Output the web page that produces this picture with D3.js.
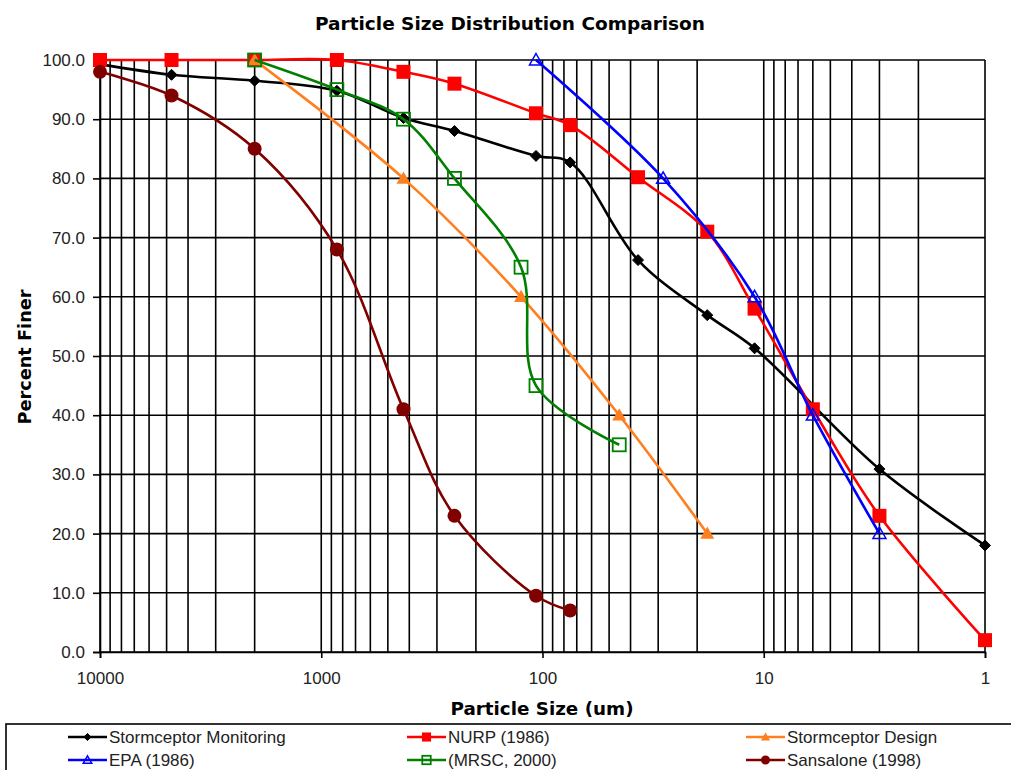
<!DOCTYPE html>
<html>
<head>
<meta charset="utf-8">
<script src="https://cdn.jsdelivr.net/npm/d3@7"></script>
<style>
  html, body { margin: 0; padding: 0; background: #fff; }
  svg { display: block; }
</style>
</head>
<body>
<svg id="chart" width="1011" height="770"></svg>
<script>
// ---- Data (particle size in um, percent finer) ----
const monitoringSize = [10000, 4750, 2000, 850, 425, 250, 107, 75, 37, 18, 11, 3, 1];
const monitoringPct  = [99.3, 97.5, 96.5, 94.8, 90.2, 88.0, 83.8, 82.7, 66.2, 56.9, 51.3, 30.9, 18.0];

const nurpSize = [10000, 4750, 2000, 850, 425, 250, 107, 75, 37, 18, 11, 6, 3, 1];
const nurpPct  = [100, 100, 100, 100, 98.0, 96.0, 91.0, 89.0, 80.2, 71.0, 58.0, 41.0, 23.0, 2.0];

const designSize = [2000, 425, 125, 45, 18];
const designPct  = [100, 80, 60, 40, 20];

const epaSize = [107, 28.5, 11, 6, 3];
const epaPct  = [100, 80, 60, 40, 20];

const mrscSize = [2000, 850, 425, 250, 125, 107, 45];
const mrscPct  = [100, 95, 90, 80, 65, 45, 35];

const sansSize = [10000, 4750, 2000, 850, 425, 250, 107, 75];
const sansPct  = [98, 94, 85, 68, 41, 23, 9.5, 7];

const seriesNames = ["Stormceptor Monitoring", "NURP (1986)", "Stormceptor Design", "EPA (1986)", "(MRSC, 2000)", "Sansalone (1998)"];
const yTicks = [0, 10, 20, 30, 40, 50, 60, 70, 80, 90, 100];
const xTicks = [10000, 1000, 100, 10, 1];

const series = [
  { name: seriesNames[0], sizes: monitoringSize, pct: monitoringPct, color: "#000000", marker: "diamond" },
  { name: seriesNames[1], sizes: nurpSize, pct: nurpPct, color: "#ff0000", marker: "square" },
  { name: seriesNames[2], sizes: designSize, pct: designPct, color: "#ff7f1e", marker: "triangle" },
  { name: seriesNames[3], sizes: epaSize, pct: epaPct, color: "#0000ff", marker: "openTriangle" },
  { name: seriesNames[4], sizes: mrscSize, pct: mrscPct, color: "#008000", marker: "openSquare" },
  { name: seriesNames[5], sizes: sansSize, pct: sansPct, color: "#800000", marker: "circle" }
];

const svg = d3.select("#chart");
const plotLeft = 100, plotRight = 985, plotTop = 60, plotBottom = 652;

const x = d3.scaleLog().domain([10000, 1]).range([plotLeft, plotRight]);
const y = d3.scaleLinear().domain([0, 100]).range([plotBottom, plotTop]);

// ---- Grid ----
const grid = svg.append("g");
const vGrid = [];
for (let d = 1; d < 10000; d *= 10) {
  for (let k = 1; k <= 9; k++) vGrid.push(d * k);
}
vGrid.push(10000);
grid.selectAll("line.v").data(vGrid).enter().append("line")
  .attr("x1", d => x(d)).attr("x2", d => x(d))
  .attr("y1", y(0)).attr("y2", y(100))
  .attr("stroke", "#000").attr("stroke-width", 1.6);
grid.selectAll("line.h").data(yTicks).enter().append("line")
  .attr("x1", x(10000)).attr("x2", x(1))
  .attr("y1", d => y(d)).attr("y2", d => y(d))
  .attr("stroke", "#000").attr("stroke-width", 1.6);

// ---- Axes ----
const yAxis = svg.append("g").attr("transform", `translate(${plotLeft},0)`)
  .call(d3.axisLeft(y).tickValues(yTicks).tickFormat(d3.format(".1f")).tickSize(7).tickPadding(8));
const xAxis = svg.append("g").attr("transform", `translate(0,${plotBottom})`)
  .call(d3.axisBottom(x).tickValues(xTicks).tickFormat(d3.format("d")).tickSize(6).tickPadding(14));
[yAxis, xAxis].forEach(a => {
  a.select(".domain").attr("stroke", "#000").attr("stroke-width", 1.6);
  a.selectAll(".tick line").attr("stroke", "#000").attr("stroke-width", 1.6);
  a.selectAll("text").attr("font-family", "'Liberation Sans', Arial, sans-serif")
    .attr("font-size", 17).attr("fill", "#222");
});

// ---- Titles ----
svg.append("text").attr("x", 510).attr("y", 30).attr("text-anchor", "middle")
  .attr("font-family", "'DejaVu Sans', Verdana, sans-serif").attr("font-weight", "bold")
  .attr("font-size", 17).attr("textLength", 390).attr("lengthAdjust", "spacingAndGlyphs")
  .text("Particle Size Distribution Comparison");
svg.append("text").attr("x", 542).attr("y", 715).attr("text-anchor", "middle")
  .attr("font-family", "'DejaVu Sans', Verdana, sans-serif").attr("font-weight", "bold")
  .attr("font-size", 17).attr("textLength", 183).attr("lengthAdjust", "spacingAndGlyphs")
  .text("Particle Size (um)");
svg.append("text").attr("transform", "translate(31,357) rotate(-90)").attr("text-anchor", "middle")
  .attr("font-family", "'DejaVu Sans', Verdana, sans-serif").attr("font-weight", "bold")
  .attr("font-size", 17).attr("textLength", 135).attr("lengthAdjust", "spacingAndGlyphs")
  .text("Percent Finer");

// ---- Marker drawing ----
function drawMarker(g, type, color, cx, cy, scale) {
  const s = scale || 1;
  if (type === "diamond") {
    const r = 5.5 * s;
    g.append("path").attr("d", `M${cx},${cy - r}L${cx + r},${cy}L${cx},${cy + r}L${cx - r},${cy}Z`)
      .attr("fill", color).attr("stroke", color).attr("stroke-width", 1);
  } else if (type === "square") {
    const h = 7 * s;
    g.append("rect").attr("x", cx - h).attr("y", cy - h).attr("width", 2 * h).attr("height", 2 * h)
      .attr("fill", color);
  } else if (type === "openSquare") {
    const h = 6.5 * s;
    g.append("rect").attr("x", cx - h).attr("y", cy - h).attr("width", 2 * h).attr("height", 2 * h)
      .attr("fill", "none").attr("stroke", color).attr("stroke-width", 1.8);
  } else if (type === "triangle") {
    const h = 7 * s;
    g.append("path").attr("d", `M${cx},${cy - h}L${cx + h},${cy + h * 0.75}L${cx - h},${cy + h * 0.75}Z`)
      .attr("fill", color);
  } else if (type === "openTriangle") {
    const h = 6.5 * s;
    g.append("path").attr("d", `M${cx},${cy - h}L${cx + h},${cy + h * 0.75}L${cx - h},${cy + h * 0.75}Z`)
      .attr("fill", "none").attr("stroke", color).attr("stroke-width", 1.5);
  } else if (type === "circle") {
    g.append("circle").attr("cx", cx).attr("cy", cy).attr("r", 7 * s).attr("fill", color);
  }
}

// ---- Series ----
const line = d3.line().x(d => x(d[0])).y(d => y(d[1])).curve(d3.curveCatmullRom.alpha(0.5));
series.forEach(s => {
  const g = svg.append("g");
  const pts = s.sizes.map((v, i) => [v, s.pct[i]]);
  g.append("path").datum(pts).attr("d", line)
    .attr("fill", "none").attr("stroke", s.color).attr("stroke-width", 2.6);
  pts.forEach(p => drawMarker(g, s.marker, s.color, x(p[0]), y(p[1]), 1));
});

// ---- Legend ----
const legend = svg.append("g");
legend.append("rect").attr("x", 6).attr("y", 724).attr("width", 1020).attr("height", 60)
  .attr("fill", "#fff").attr("stroke", "#000").attr("stroke-width", 1.6);
const colX = [68, 407, 746];
const rowY = [737, 760];
series.forEach((s, i) => {
  const cx = colX[i % 3], cy = rowY[Math.floor(i / 3)];
  const g = legend.append("g");
  g.append("line").attr("x1", cx).attr("x2", cx + 39).attr("y1", cy).attr("y2", cy)
    .attr("stroke", s.color).attr("stroke-width", 2.6);
  drawMarker(g, s.marker, s.color, cx + 19.5, cy, 0.65);
  g.append("text").attr("x", cx + 41).attr("y", cy + 6)
    .attr("font-family", "'Liberation Sans', Arial, sans-serif").attr("font-size", 17)
    .attr("fill", "#222").text(s.name);
});
</script>
</body>
</html>
